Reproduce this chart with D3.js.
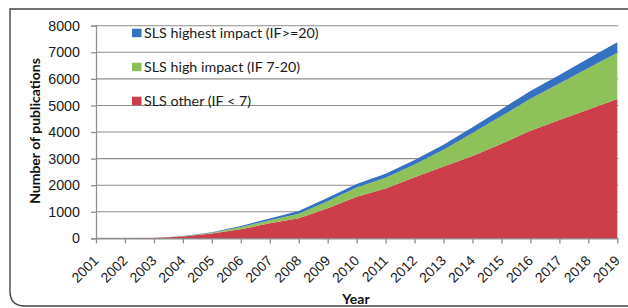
<!DOCTYPE html>
<html>
<head>
<meta charset="utf-8">
<script src="https://cdn.jsdelivr.net/npm/d3@7"></script>
<style>
  html, body { margin: 0; padding: 0; background: #fff; }
  svg { display: block; font-family: Lato, "Open Sans", sans-serif; }
</style>
</head>
<body>
<div id="chart"></div>
<script>
// data
var years = [2001, 2002, 2003, 2004, 2005, 2006, 2007, 2008, 2009, 2010,
             2011, 2012, 2013, 2014, 2015, 2016, 2017, 2018, 2019];
var slsOther = [0, 0, 15, 70, 185, 340, 570, 760, 1130, 1570,
                1880, 2300, 2700, 3100, 3560, 4050, 4450, 4850, 5240];
var slsHigh = [0, 0, 0, 10, 25, 90, 110, 170, 270, 340,
               400, 480, 630, 860, 1040, 1200, 1380, 1560, 1740];
var slsHighest = [0, 0, 0, 10, 20, 40, 70, 100, 130, 140,
                  150, 170, 190, 220, 260, 290, 320, 360, 400];
var yTicks = [0, 1000, 2000, 3000, 4000, 5000, 6000, 7000, 8000];
var seriesNames = ["SLS highest impact (IF>=20)", "SLS high impact (IF 7-20)", "SLS other (IF < 7)"];

var width = 628, height = 308;
var margin = {top: 25.7, left: 96, right: 10.7, bottom: 69.6};

var colors = {other: "#cc3f4a", high: "#8fc15b", highest: "#3571c1"};

var svg = d3.select("#chart")
  .append("svg")
  .attr("width", width)
  .attr("height", height);

// outer frame (square top-left, rounded bottom-left)
svg.append("path")
  .attr("d", "M640,9 L10,9 L10,291 Q10,306 25,306 L640,306")
  .attr("fill", "none")
  .attr("stroke", "#444")
  .attr("stroke-width", 1.4);

var x = d3.scalePoint()
  .domain(years)
  .range([margin.left, width - margin.right]);

var y = d3.scaleLinear()
  .domain([0, 8000])
  .range([height - margin.bottom, margin.top]);

// gridlines
svg.append("g")
  .selectAll("line")
  .data(yTicks)
  .enter().append("line")
  .attr("x1", margin.left)
  .attr("x2", width - margin.right + 1)
  .attr("y1", function(d) { return y(d); })
  .attr("y2", function(d) { return y(d); })
  .attr("stroke", "#8e8e8e")
  .attr("stroke-width", 1.1);

// stacked areas
var table = years.map(function(yr, i) {
  return {year: yr, other: slsOther[i], high: slsHigh[i], highest: slsHighest[i]};
});
var stack = d3.stack().keys(["other", "high", "highest"]);
var layers = stack(table);

var area = d3.area()
  .x(function(d) { return x(d.data.year); })
  .y0(function(d) { return y(d[0]); })
  .y1(function(d) { return y(d[1]); });

svg.append("g")
  .selectAll("path")
  .data(layers)
  .enter().append("path")
  .attr("d", area)
  .attr("fill", function(d) { return colors[d.key]; });

// y axis
var yAxis = svg.append("g")
  .attr("transform", "translate(" + margin.left + ",0)")
  .call(d3.axisLeft(y).tickValues(yTicks).tickSize(5).tickPadding(11).tickFormat(d3.format("d")));
yAxis.select(".domain").attr("stroke", "#8e8e8e").attr("stroke-width", 1.3);
yAxis.selectAll(".tick line").attr("stroke", "#8e8e8e").attr("stroke-width", 1.3);
yAxis.selectAll("text")
  .style("font-size", "14.3px")
  .style("fill", "#1a1a1a");

// x axis
var xAxis = svg.append("g")
  .attr("transform", "translate(0," + y(0) + ")")
  .call(d3.axisBottom(x).tickSize(5).tickSizeOuter(0));
xAxis.select(".domain").attr("stroke", "#8e8e8e").attr("stroke-width", 1.3);
xAxis.selectAll(".tick line").attr("stroke", "#8e8e8e").attr("stroke-width", 1.3);
xAxis.selectAll("text")
  .attr("x", 0)
  .attr("y", 0)
  .attr("dy", 0)
  .attr("transform", "translate(3,23) rotate(-45)")
  .style("text-anchor", "end")
  .style("font-size", "14px")
  .style("fill", "#1a1a1a");

// axis titles
svg.append("text")
  .attr("x", 356)
  .attr("y", 304)
  .style("text-anchor", "middle")
  .style("font-weight", "bold")
  .style("font-size", "14px")
  .style("fill", "#111")
  .text("Year");

svg.append("text")
  .attr("transform", "translate(40,131) rotate(-90)")
  .style("text-anchor", "middle")
  .style("font-weight", "bold")
  .style("font-size", "14px")
  .style("fill", "#111")
  .text("Number of publications");

// legend
var legendColors = [colors.highest, colors.high, colors.other];
var legend = svg.append("g")
  .selectAll("g")
  .data(seriesNames)
  .enter().append("g")
  .attr("transform", function(d, i) { return "translate(132," + (37.7 + i * 34) + ")"; });

legend.append("rect")
  .attr("x", 0)
  .attr("y", -9)
  .attr("width", 9.5)
  .attr("height", 8.5)
  .attr("fill", function(d, i) { return legendColors[i]; });

legend.append("text")
  .attr("x", 12)
  .attr("y", 0)
  .style("font-size", "14.3px")
  .style("fill", "#1a1a1a")
  .text(function(d) { return d; });
</script>
</body>
</html>
